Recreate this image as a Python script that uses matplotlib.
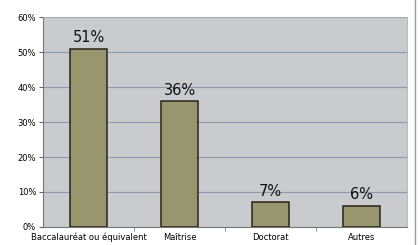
import matplotlib
matplotlib.use("Agg")
import matplotlib.pyplot as plt
from matplotlib.ticker import PercentFormatter, FixedLocator

categories = ["Baccalauréat ou équivalent", "Maîtrise", "Doctorat", "Autres"]
values = [51, 36, 7, 6]
value_labels = ["51%", "36%", "7%", "6%"]
yticks = [0, 10, 20, 30, 40, 50, 60]

fig = plt.figure(figsize=(4.18, 2.45), dpi=100)
fig.patch.set_facecolor("white")
ax = fig.add_axes([0.103, 0.0735, 0.871, 0.857])
ax.set_facecolor("#c9cbcf")

x = range(len(categories))
bars = ax.bar(x, values, width=0.41, color="#98966e", edgecolor="#2a2418", linewidth=1.1, zorder=3)
for xi, v, lab in zip(x, values, value_labels):
    ax.text(xi, v + 1.0, lab, ha="center", va="bottom", fontsize=10.5, color="#111111", zorder=4)

ax.set_xlim(-0.5, len(categories) - 0.5)
ax.set_ylim(0, 60)
ax.set_yticks(yticks)
ax.yaxis.set_major_formatter(PercentFormatter(decimals=0))
ax.yaxis.grid(True, color="#8e9bab", linewidth=0.8, zorder=1)
ax.set_xticks(list(x))
ax.set_xticklabels(categories)
ax.xaxis.set_minor_locator(FixedLocator([i + 0.5 for i in range(len(categories) - 1)]))
ax.tick_params(axis="x", which="minor", length=3, color="#777777")
ax.tick_params(axis="y", labelsize=6, length=3, color="#666666", pad=2)
ax.tick_params(axis="x", which="major", labelsize=6, length=0, pad=4)
for s in ["top", "right"]:
    ax.spines[s].set_color("#a8b0b8")
    ax.spines[s].set_linewidth(0.6)
ax.spines["left"].set_color("#777777")
ax.spines["bottom"].set_color("#777777")
ax.spines["left"].set_linewidth(0.8)
ax.spines["bottom"].set_linewidth(0.8)

fig.add_artist(plt.Line2D([0.994, 0.994], [0.0, 1.0], color="#999999", linewidth=1.0, transform=fig.transFigure))

fig.savefig("out.png", dpi=100, facecolor=fig.get_facecolor())
